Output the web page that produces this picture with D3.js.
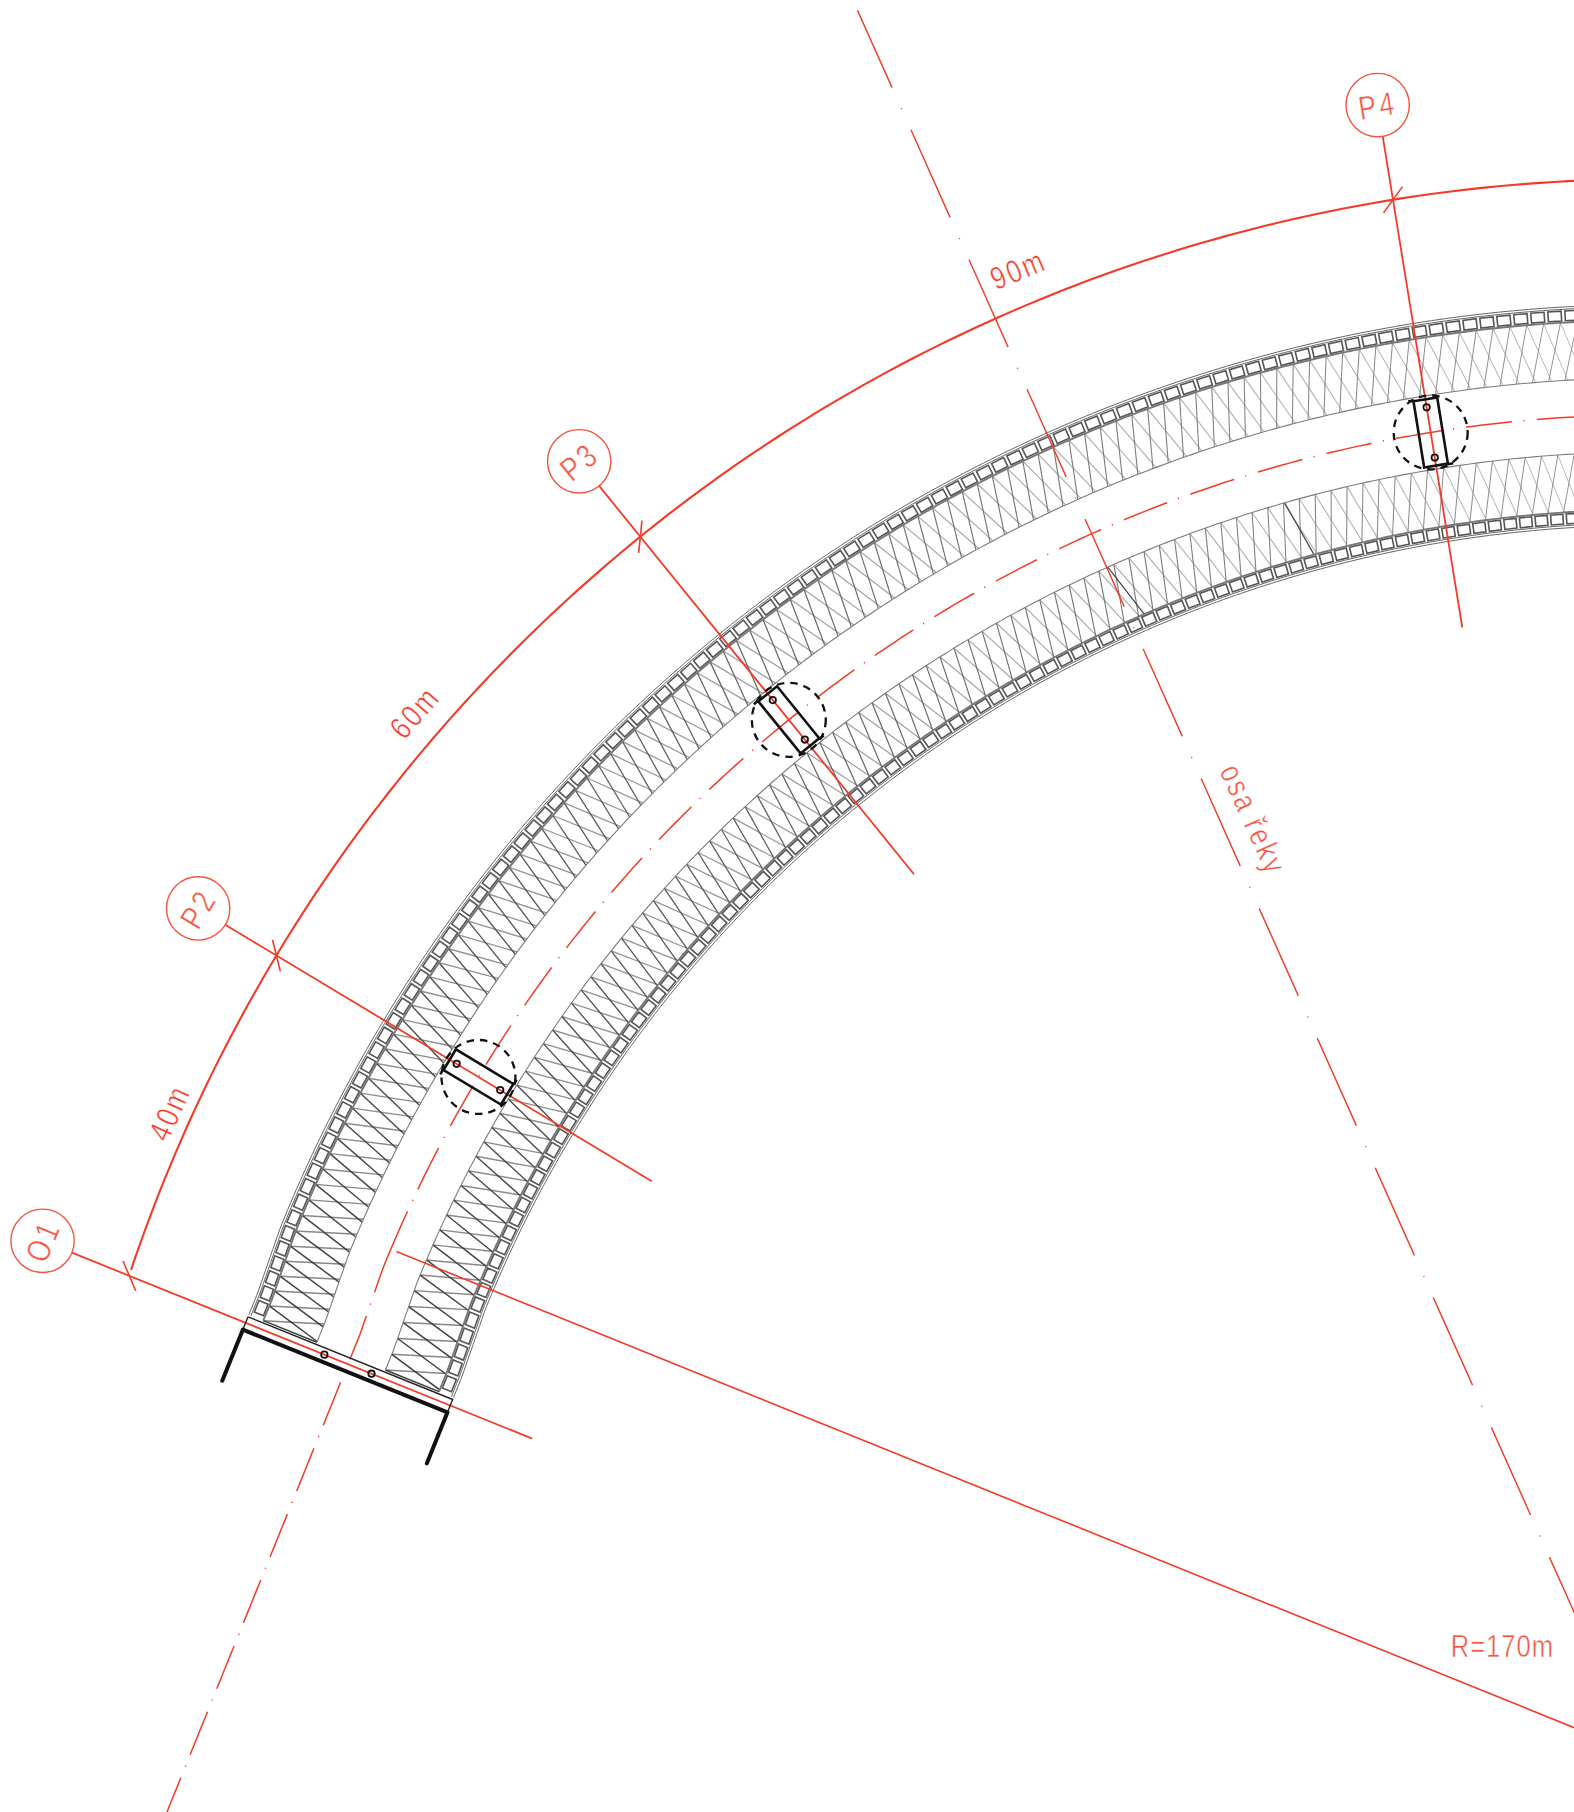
<!DOCTYPE html>
<html>
<head>
<meta charset="utf-8">
<title>Oblouk mostu</title>
<script src="https://cdn.jsdelivr.net/npm/d3@7"></script>
<style>
  html, body { margin: 0; background: #fff; }
  svg { display: block; }
  text { font-family: "Liberation Sans", sans-serif; }
</style>
</head>
<body>
<div id="plan"></div>
<script>
const arcCentre = [1427, 1541];
const arcRadius = 1182;
const tangentAngle = 22; // degrees, where the straight part turns into the arc
const straightShift = 3; // the straight part sits a little inside the tangent

const pierNames = ["O1", "P2", "P3", "P4"];
const pierStations = [-87.5, 186, 597.5, 1213]; // along the centre line
const bubbleOffsets = [285, 283, 288, 287];
const tailOffsets = [-172, -175, -172, -171];
const spanLabels = ["40m", "60m", "90m"];
const spanLabelAngles = [24.3, 40.9, 67.4];
const spanLabelRadii = [1403, 1411, 1416];

const dimOffset = 204;
const dimAngleRange = [18.6, 92];
const bubbleRadius = 27.4;

const bandInner = 32;
const bandOuter = 82;
const boxOffsets = [83.5, 92];
const edgeOffsets = [93.5, 95.5];
const outerStep = 13.7;
const innerStep = 14.6;
const strutLeans = [17, -13];
const darkStruts = [907, 1074.5];

const stationRange = [-80, 1520];
const centreDash = [40, 10, 1, 10.5];

const riverAxis = [[742, 9], [1362, 1395], [1440, 1569]];
const radiusLine = [[343, 1083], [1362, 1495]];
const radiusLabel = ["R=170m", 1300, 1424];
const riverLabel = ["osa řeky", 1085, 709, 65.5];

const red = "#f23b28";
const redText = "#f2553f";

const x = d3.scaleLinear().domain([0, 1362]).range([0, 1574]);
const y = d3.scaleLinear().domain([0, 1568]).range([0, 1812]);
const k = x(1) - x(0);

const svg = d3.select("#plan").append("svg")
  .attr("width", 1574)
  .attr("height", 1812)
  .attr("viewBox", "0 0 1574 1812");

const line = d3.line().x(d => x(d[0])).y(d => y(d[1]));
const rad = d => d * Math.PI / 180;
const t0 = rad(tangentAngle);

// position on the centre line: straight below the tangent point, arc above it
function frame(u) {
  const t = u <= 0 ? t0 : t0 + u / arcRadius;
  const n = [-Math.cos(t), -Math.sin(t)];
  const tau = [Math.sin(t), -Math.cos(t)];
  const s = Math.min(u, 0);
  const r = arcRadius - Math.min(straightShift, Math.max(0, -u * 0.05));
  const p = [
    arcCentre[0] + r * n[0] + s * tau[0],
    arcCentre[1] + r * n[1] + s * tau[1]
  ];
  return { p, n, tau };
}

function at(u, off) {
  const f = frame(u);
  return [f.p[0] + off * f.n[0], f.p[1] + off * f.n[1]];
}

// local coordinates around a station: off across the deck, d along it
function local(u, off, d) {
  const f = frame(u);
  return [
    f.p[0] + off * f.n[0] + d * f.tau[0],
    f.p[1] + off * f.n[1] + d * f.tau[1]
  ];
}

function curve(off, from, to, step) {
  return d3.range(from, to, step || 6).concat([to]).map(u => at(u, off));
}

function stroked(sel, color, width) {
  return sel.attr("fill", "none").attr("stroke", color).attr("stroke-width", width);
}

const strutColor = d3.scaleLinear().domain([-80, 500, 1300]).range(["#333333", "#555555", "#8c8c8c"]);
const strutWidth = d3.scaleLinear().domain([-80, 500, 1300]).range([1.5, 1.25, 1]);

// ---- truss bands
const truss = svg.append("g");

[[bandOuter, bandInner, outerStep], [-bandInner, -bandOuter, innerStep]].forEach(band => {
  d3.range(stationRange[0], stationRange[1], band[2]).forEach(u => {
    strutLeans.forEach((lean, i) => {
      const end = Math.max(u + lean, stationRange[0]);
      stroked(truss.append("path"), strutColor(u), strutWidth(u))
        .attr("d", line([at(u, band[0]), at(end, band[1])]))
        .attr("stroke-opacity", i === 0 ? 0.6 : 0.95);
    });
  });
});

darkStruts.forEach(u => {
  stroked(truss.append("path"), "#444", 1.2)
    .attr("d", line([at(u, -bandInner), at(u + 13, -bandOuter)]));
});

// ---- edge boxes
[[1, outerStep], [-1, innerStep]].forEach(side => {
  d3.range(stationRange[0] + 4, stationRange[1], side[1]).forEach(u => {
    const a = boxOffsets[0] * side[0];
    const b = boxOffsets[1] * side[0];
    const w = side[1] * 0.78;
    stroked(truss.append("path"), "#555", 1.6)
      .attr("d", line([at(u, a), at(u, b), at(u + w, b), at(u + w, a)]) + "Z")
      .attr("fill", "#fff");
  });
});

// ---- long edges
[bandInner, -bandInner].forEach(off => {
  stroked(truss.append("path"), "#7c7c7c", 1.1)
    .attr("d", line(curve(off, stationRange[0], stationRange[1])));
});
[bandOuter, -bandOuter].forEach(off => {
  stroked(truss.append("path"), "#777", 1.9)
    .attr("d", line(curve(off, stationRange[0], stationRange[1])));
});
edgeOffsets.forEach(off => {
  [off, -off].forEach(o => {
    stroked(truss.append("path"), "#666", 1)
      .attr("d", line(curve(o, stationRange[0], stationRange[1])));
  });
});

// ---- centre line, the arc part starts with one long dash over the tangent point
const arcPattern = [76, 10, 1, 10].concat(d3.merge(d3.range(40).map(() => centreDash))).map(d => d * k);
stroked(svg.append("path"), red, 1.5)
  .attr("d", line(curve(0, -21.5, 1520)))
  .attr("stroke-dasharray", arcPattern.join(" "));
stroked(svg.append("path"), red, 1.5)
  .attr("d", line(curve(0, -540, -21.5).reverse()))
  .attr("stroke-dasharray", centreDash.map(d => d * k).join(" "))
  .attr("stroke-dashoffset", 40 * k);

// ---- river axis and radius
stroked(svg.append("path"), red, 1.4)
  .attr("d", line(riverAxis))
  .attr("stroke-dasharray", [83, 19.5, 1, 19.5].map(d => d * k).join(" "))
  .attr("stroke-dashoffset", 9.8 * k);

stroked(svg.append("path"), red, 1.6)
  .attr("d", line(radiusLine));

// ---- dimension arc
const dimAngles = d3.range(dimAngleRange[0], dimAngleRange[1], 0.5);
stroked(svg.append("path"), red, 2.1)
  .attr("d", line(dimAngles.map(a => [
    arcCentre[0] - (arcRadius + dimOffset) * Math.cos(rad(a)),
    arcCentre[1] - (arcRadius + dimOffset) * Math.sin(rad(a))
  ])));

// text is drawn narrow and thin to come near the CAD lettering
function label(sel, px, py, angle, size, spacing, color, txt) {
  return sel.append("text")
    .attr("transform", `translate(${x(px)},${y(py)}) rotate(${angle}) scale(0.8,1)`)
    .attr("text-anchor", "middle")
    .attr("dy", "0.36em")
    .attr("font-size", size)
    .attr("letter-spacing", spacing)
    .attr("fill", color)
    .attr("stroke", "#fff")
    .attr("stroke-width", 0.5)
    .text(txt);
}

// ---- grid lines, ticks, bubbles
pierStations.forEach((u, i) => {
  const f = frame(u);
  stroked(svg.append("path"), red, 1.8)
    .attr("d", line([at(u, bubbleOffsets[i] - bubbleRadius), at(u, tailOffsets[i])]));

  const c = at(u, dimOffset);
  const s = Math.SQRT1_2;
  const dir = [f.tau[0] * s + f.tau[1] * s, -f.tau[0] * s + f.tau[1] * s];
  stroked(svg.append("path"), red, 1.6)
    .attr("d", line([
      [c[0] - 14 * dir[0], c[1] - 14 * dir[1]],
      [c[0] + 14 * dir[0], c[1] + 14 * dir[1]]
    ]));

  const b = at(u, bubbleOffsets[i]);
  svg.append("circle")
    .attr("cx", x(b[0]))
    .attr("cy", y(b[1]))
    .attr("r", bubbleRadius * k)
    .attr("fill", "#fff")
    .attr("stroke", redText)
    .attr("stroke-width", 1.4);

  const a = u <= 0 ? tangentAngle : tangentAngle + u / arcRadius * 180 / Math.PI;
  label(svg, b[0], b[1], a - 90, 33, 4, redText, pierNames[i]);
});

// ---- abutment O1
const abut = pierStations[0];
stroked(svg.append("path"), "#222", 1.4)
  .attr("d", line([
    local(abut, edgeOffsets[1], 5.6),
    local(abut, -edgeOffsets[1], 5.6),
    local(abut, -edgeOffsets[1], -6.4)
  ]));
stroked(svg.append("path"), "#222", 1.4)
  .attr("d", line([local(abut, edgeOffsets[1], 5.6), local(abut, edgeOffsets[1], -6.4)]));
stroked(svg.append("path"), "#111", 4)
  .attr("d", line([
    local(abut, edgeOffsets[1], -54),
    local(abut, edgeOffsets[1], -6.4),
    local(abut, -edgeOffsets[1], -6.4),
    local(abut, -edgeOffsets[1], -54)
  ]))
  .attr("stroke-linecap", "round")
  .attr("stroke-linejoin", "round");

// ---- piers
pierStations.forEach((u, i) => {
  const g = svg.append("g");
  if (i > 0) {
    const c = at(u, 0);
    stroked(g.append("circle"), "#111", 2.3)
      .attr("cx", x(c[0]))
      .attr("cy", y(c[1]))
      .attr("r", 32 * k)
      .attr("stroke-dasharray", "7.5 6");
    stroked(g.append("path"), "#111", 2.6)
      .attr("d", line([
        local(u, 29, -10.4), local(u, 29, 10.4),
        local(u, -29, 10.4), local(u, -29, -10.4)
      ]) + "Z");
    stroked(g.append("path"), "#111", 2.6)
      .attr("d", line([local(u, 29.5, -15), local(u, 29.5, -10)]));
    stroked(g.append("path"), "#111", 2.6)
      .attr("d", line([local(u, -29.5, 10), local(u, -29.5, 15)]));
  }
  [22, -22].forEach(off => {
    const d = at(u, off);
    stroked(g.append("circle"), "#111", 1.8)
      .attr("cx", x(d[0]))
      .attr("cy", y(d[1]))
      .attr("r", 3.2);
  });
});

// ---- texts
spanLabels.forEach((txt, i) => {
  const a = spanLabelAngles[i];
  const r = spanLabelRadii[i];
  const px = arcCentre[0] - 2 - r * Math.cos(rad(a));
  const py = arcCentre[1] - 1 - r * Math.sin(rad(a));
  label(svg, px, py, a - 90, 32, 3, red, txt);
});

label(svg, radiusLabel[1], radiusLabel[2], 0, 32, 1.2, redText, radiusLabel[0]);
label(svg, riverLabel[1], riverLabel[2], riverLabel[3], 32, 3.2, redText, riverLabel[0]);
</script>
</body>
</html>
